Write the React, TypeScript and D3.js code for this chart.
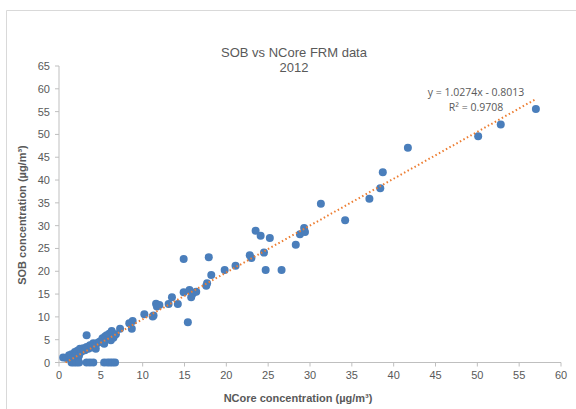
import React from "react";
import * as d3 from "d3";

const ncore: number[] = [
  0.5, 0.9, 1.2, 1.5, 1.7, 1.9, 2.1, 2.2, 2.3, 2.4, 2.5, 2.7, 2.9, 3.1, 3.3, 3.3, 3.5, 3.7, 3.9, 4.1,
  4.3, 4.4, 4.6, 4.8, 5.0, 5.2, 5.4, 5.5, 5.7, 5.9, 6.0, 6.2, 6.3, 6.5, 6.6, 6.8, 7.3,
  1.5, 1.8, 2.1, 2.4, 3.3, 3.7, 4.1, 5.4, 5.8, 6.1, 6.4, 6.7,
  8.4, 8.7, 8.8, 10.2, 11.3, 11.2, 11.6, 11.7, 12.0, 13.1, 13.5, 14.2, 14.9, 14.9, 15.4, 15.6, 15.8,
  16.0, 16.4, 17.6, 17.7, 17.9, 18.2, 19.8, 21.1, 22.8, 23.0, 23.5, 24.1, 24.5, 24.7, 25.2, 26.6,
  28.3, 28.8, 29.4, 29.3, 31.3, 34.2, 37.1, 38.4, 38.7, 41.7, 50.1, 52.8, 57.0,
];
const sob: number[] = [
  1.1, 1.0, 1.6, 1.8, 1.2, 2.3, 1.9, 2.6, 1.1, 1.6, 3.0, 2.4, 3.1, 2.7, 6.0, 3.4, 3.0, 3.8, 3.3, 4.2,
  3.6, 3.0, 4.3, 4.5, 4.7, 5.3, 4.1, 5.7, 6.0, 5.2, 6.3, 4.9, 6.9, 5.4, 5.9, 6.2, 7.4,
  0, 0, 0, 0, 0, 0, 0, 0, 0, 0, 0, 0,
  8.6, 7.4, 9.1, 10.6, 10.3, 10.1, 12.9, 12.3, 12.6, 12.8, 14.3, 12.8, 22.7, 15.4, 8.8, 15.9, 14.3,
  15.1, 15.5, 16.8, 17.4, 23.1, 19.2, 20.3, 21.2, 23.5, 22.9, 28.9, 27.8, 24.1, 20.3, 27.3, 20.3,
  25.8, 28.1, 28.6, 29.5, 34.8, 31.2, 35.9, 38.2, 41.7, 47.1, 49.6, 52.2, 55.6,
];
const xTicks: number[] = d3.range(0, 61, 5);
const yTicks: number[] = d3.range(0, 66, 5);
const slope = 1.0274;
const intercept = -0.8013;
const titleLines = ["SOB vs NCore FRM data", "2012"];
const eqLines = ["y = 1.0274x - 0.8013", "R² = 0.9708"];

export default function App() {
  const W = 576, H = 409;
  const x = d3.scaleLinear().domain([0, 60]).range([59, 561]);
  const y = d3.scaleLinear().domain([0, 65]).range([362.5, 66]);
  const gray = "#595959";
  const axisColor = "#bfbfbf";
  const font = "'Liberation Sans', Arial, sans-serif";
  const xMin = Math.max(d3.min(ncore) as number, -intercept / slope);
  const xMax = d3.max(ncore) as number;
  const line = d3.line<number>().x((d) => x(d)).y((d) => y(slope * d + intercept));
  return (
    <svg width={W} height={H} style={{ position: "absolute", left: 0, top: 0 }}>
      <rect x={0} y={0} width={W} height={H} fill="#fff" />
      <path d={`M6.5,${H + 5}V10.5H${W + 5}`} fill="none" stroke="#d9d9d9" strokeWidth={1} />
      {titleLines.map((t, i) => (
        <text key={t} x={294} y={57 + i * 15} textAnchor="middle" fontFamily={font} fontSize={13} fill={gray}>
          {t}
        </text>
      ))}
      <line x1={x(0)} x2={x(0)} y1={y(65)} y2={y(0)} stroke={axisColor} />
      <line x1={x(0)} x2={x(60)} y1={y(0)} y2={y(0)} stroke={axisColor} />
      {yTicks.map((t) => (
        <g key={"y" + t}>
          <line x1={x(0) - 4} x2={x(0)} y1={y(t)} y2={y(t)} stroke={axisColor} />
          <text x={50} y={y(t) + 4} textAnchor="end" fontFamily={font} fontSize={11} fill={gray}>
            {t}
          </text>
        </g>
      ))}
      {xTicks.map((t) => (
        <g key={"x" + t}>
          <line x1={x(t)} x2={x(t)} y1={y(0)} y2={y(0) + 4} stroke={axisColor} />
          <text x={x(t)} y={379} textAnchor="middle" fontFamily={font} fontSize={11} fill={gray}>
            {t}
          </text>
        </g>
      ))}
      {ncore.map((v, i) => (
        <circle key={i} cx={x(v)} cy={y(sob[i])} r={4} fill="#4a7ebb" />
      ))}
      <path d={line([xMin, xMax]) || ""} fill="none" stroke="#ed7d31" strokeWidth={2} strokeDasharray="1.5,2.5" />
      {eqLines.map((t, i) => (
        <text key={t} x={476} y={96 + i * 15} textAnchor="middle" fontFamily="'Open Sans', sans-serif" fontSize={10.5} fill={gray}>
          {t}
        </text>
      ))}
      <text x={298} y={402} textAnchor="middle" fontFamily={font} fontSize={11} fontWeight="bold" fill={gray}>
        NCore concentration (µg/m³)
      </text>
      <text transform={`translate(26,215) rotate(-90)`} textAnchor="middle" fontFamily={font} fontSize={11} fontWeight="bold" fill={gray}>
        SOB  concentration (µg/m³)
      </text>
    </svg>
  );
}
